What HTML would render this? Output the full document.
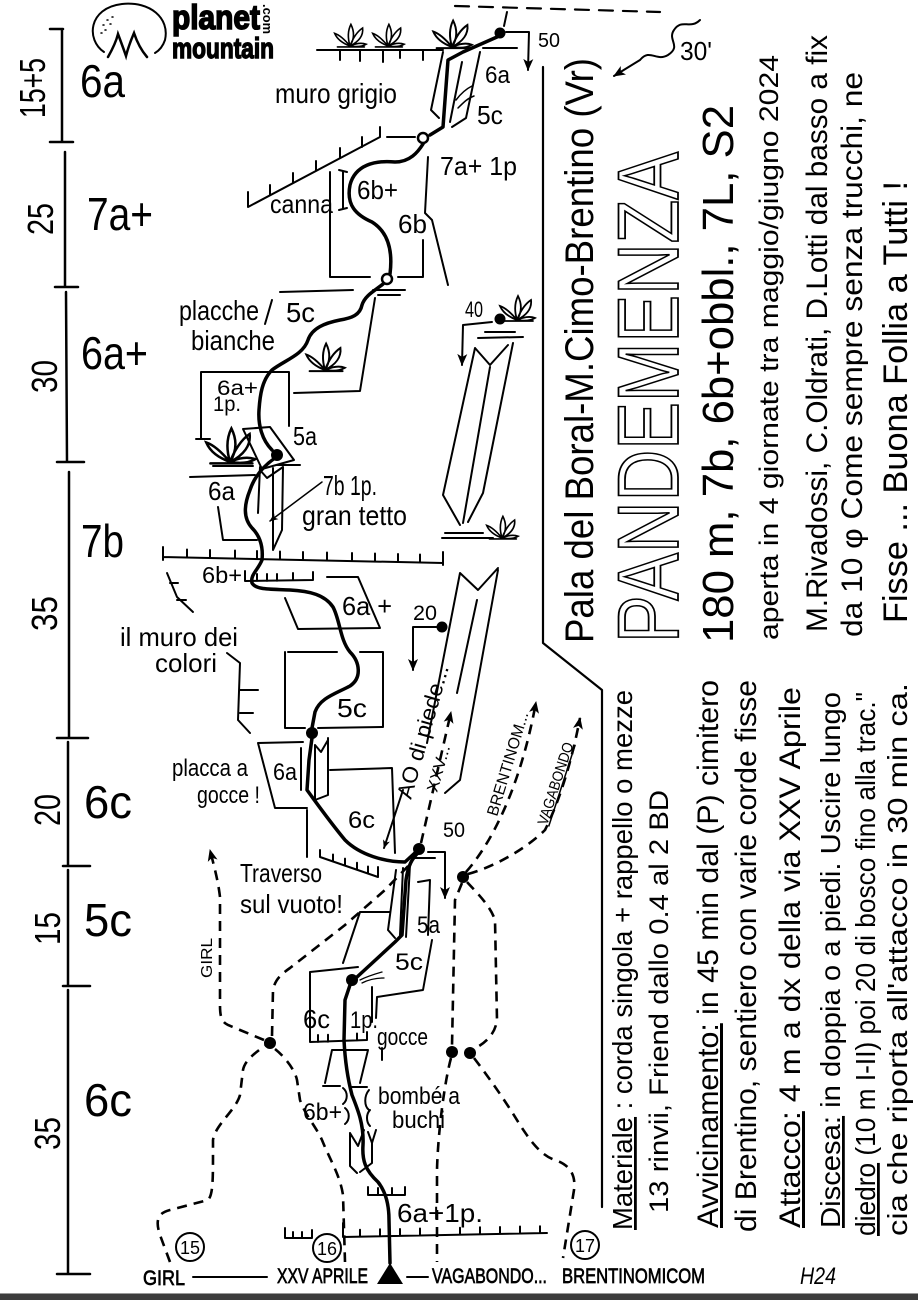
<!DOCTYPE html>
<html><head><meta charset="utf-8">
<style>
html,body{margin:0;padding:0;background:#fff;}
svg{display:block}
text{font-family:"Liberation Sans Narrow","Liberation Sans",sans-serif;fill:#000}
</style></head>
<body>
<svg width="918" height="1300" viewBox="0 0 918 1300" xmlns="http://www.w3.org/2000/svg">
<defs>
<marker id="ah" markerUnits="userSpaceOnUse" markerWidth="14" markerHeight="14" viewBox="0 0 14 14" refX="12" refY="7" orient="auto"><path d="M1,2 L13,7 L1,12 L4,7 Z" fill="#000"/></marker>
<marker id="ahs" markerUnits="userSpaceOnUse" markerWidth="10" markerHeight="10" viewBox="0 0 14 14" refX="12" refY="7" orient="auto"><path d="M1,2 L13,7 L1,12 L4,7 Z" fill="#000"/></marker>
<g id="plant" fill="none" stroke="#000" stroke-width="1.8" stroke-linecap="round">
<path d="M0,0 C-3,-10 -2,-18 1,-24 C5,-16 5,-8 0,0 M0,0 C3,-8 8,-16 14,-20 C15,-12 10,-5 0,0 M0,0 C-5,-6 -11,-12 -17,-14 C-14,-7 -8,-3 0,0 M0,0 C6,-3 13,-4 18,-2 C13,1 6,1 0,0 M-14,1 L16,1"/>
</g>
</defs>
<rect width="918" height="1300" fill="#fff"/>

<!-- LOGO -->
<g fill="none" stroke="#000" stroke-linecap="round">
<path d="M104,52 C86,40 88,8 122,4 C150,1 170,18 165,40 C163,46 160,50 155,53" stroke-width="2"/>
<path d="M108,57 C112,50 116,42 118,34 C121,42 124,50 126,56 C128,48 131,40 134,33 C137,42 141,50 147,57" stroke-width="2.5"/>
<path d="M103,25 l1,0 M107,20 l1,0 M110,24 l1,0 M105,30 l1,0 M112,17 l1,0 M101,33 l1,0" stroke-width="1.5"/>
</g>
<text x="172" y="29" font-size="34" font-weight="bold" textLength="88" lengthAdjust="spacingAndGlyphs" style="stroke:#000;stroke-width:1.6">planet</text>
<text x="172" y="58" font-size="29" font-weight="bold" textLength="102" lengthAdjust="spacingAndGlyphs" style="stroke:#000;stroke-width:1.4">mountain</text>
<text transform="translate(263,4) rotate(90)" font-size="13" font-weight="bold" textLength="30" lengthAdjust="spacingAndGlyphs">.com</text>

<!-- SCALE COLUMN -->
<g fill="none" stroke="#000" stroke-width="2.5" stroke-linecap="round">
<path d="M50,29 L63,29 M62,29 L62,142 M50,142 L73,142"/>
<path d="M65,152 L65,287 M55,287 L78,287"/>
<path d="M66,292 L67,462 M57,462 L84,462"/>
<path d="M69,472 L69,738 M57,738 L88,738"/>
<path d="M68,742 L68,866 M63,866 L90,866"/>
<path d="M68,870 L68,986 M63,986 L90,986"/>
<path d="M68,990 L68,1274 M57,1274 L90,1274"/>
</g>
<g font-size="36">
<text transform="translate(45,118) rotate(-90)" textLength="60" lengthAdjust="spacingAndGlyphs">15+5</text>
<text transform="translate(53,235) rotate(-90)" textLength="32" lengthAdjust="spacingAndGlyphs">25</text>
<text transform="translate(57,393) rotate(-90)" textLength="33" lengthAdjust="spacingAndGlyphs">30</text>
<text transform="translate(57,631) rotate(-90)" textLength="35" lengthAdjust="spacingAndGlyphs">35</text>
<text transform="translate(60,826) rotate(-90)" textLength="32" lengthAdjust="spacingAndGlyphs">20</text>
<text transform="translate(60,945) rotate(-90)" textLength="33" lengthAdjust="spacingAndGlyphs">15</text>
<text transform="translate(60,1150) rotate(-90)" textLength="33" lengthAdjust="spacingAndGlyphs">35</text>
</g>
<g font-size="46">
<text x="80" y="97" textLength="45" lengthAdjust="spacingAndGlyphs">6a</text>
<text x="87" y="230" textLength="66" lengthAdjust="spacingAndGlyphs">7a+</text>
<text x="81" y="369" textLength="67" lengthAdjust="spacingAndGlyphs">6a+</text>
<text x="81" y="557" textLength="43" lengthAdjust="spacingAndGlyphs">7b</text>
<text x="84" y="818" textLength="48" lengthAdjust="spacingAndGlyphs">6c</text>
<text x="84" y="936" textLength="48" lengthAdjust="spacingAndGlyphs">5c</text>
<text x="84" y="1116" textLength="48" lengthAdjust="spacingAndGlyphs">6c</text>
</g>

<!-- TOP AREA -->
<g fill="none" stroke="#000" stroke-width="2" stroke-linecap="round" stroke-linejoin="round">
<path d="M455,6 L660,12" stroke-dasharray="14 10" stroke-width="2.2"/>
<path d="M504,26 L507,12"/>
<path d="M317,50 L443,50 M340,50 L340,60 M360,50 L360,61 M383,50 L383,62 M400,50 L400,58 M423,50 L423,60"/>
<path d="M483,48 L517,48"/>
<path d="M443,52 L431,110 L439,118"/>
<path d="M462,62 L450,122"/>
<path d="M480,52 L466,118 L452,127"/>
<path d="M456,100 C462,92 468,88 472,86 M458,108 C464,102 468,98 474,96" stroke-width="1.5"/>
<path d="M506,32 L529,32 L528,70" marker-end="url(#ah)"/>
<path d="M248,192 L248,207 L380,137 M270,195 L270,185 M293,183 L293,173 M316,171 L316,161 M340,158 L340,148 M362,147 L362,137 M380,137 L380,127"/>
<path d="M387,137 L415,137"/>
<path d="M343,172 L343,208 M339,170 L347,172 M339,210 L347,208"/>
<path d="M330,172 L330,277 L370,277 M398,277 L423,277 L423,240"/>
<path d="M428,157 L425,213 L432,220 L448,285"/>
<path d="M373,290 L405,290 M378,295 L400,295"/>
<path d="M280,292 L353,290 M272,300 L265,324"/>
<path d="M375,298 L360,391 L294,393"/>
<path d="M201,439 L201,372 L289,372 L289,426 M196,439 L210,439"/>
<path d="M243,429 L270,427 L294,460 L262,469 Z"/>
<path d="M190,477 L255,475 M213,466 L253,466 M277,465 L300,465"/>
<path d="M260,467 L258,513 M273,468 L273,550 L282,530 L283,467 M260,470 L267,478 L283,467"/>
<path d="M218,507 L223,540 L257,540"/>
<path d="M322,482 L270,521" stroke-width="1.5" marker-end="url(#ahs)"/>
<path d="M163,557 L443,563 M163,547 L163,560 M443,552 L443,565"/>
<path d="M187,557.5 l0,-8 M210,558 l0,-8 M235,558.5 l0,-8 M257,559 l0,-8 M280,559.5 l0,-8 M303,560 l0,-8 M327,560.5 l0,-8 M352,561 l0,-8 M375,561.5 l0,-8 M398,562 l0,-8 M420,562.5 l0,-8"/>
<path d="M245,581 L313,580 M245,581 L245,571 M257,581 l0,-7 M267,581 l0,-7 M277,581 l0,-7 M293,580 l0,-7 M313,580 l0,-8"/>
<path d="M327,577 L358,577 L380,628 L298,629 L285,598"/>
<path d="M167,573 L177,597 L193,612 M170,583 L178,583 M177,600 L186,600"/>
<path d="M227,653 L240,663 L238,720 L250,733 M240,690 L258,690 M240,713 L253,713"/>
<path d="M288,652 L337,652 M360,652 L383,652 L383,727 L318,728 M285,652 L285,728 L305,728"/>
<path d="M437,627 L413,627 L413,670" marker-end="url(#ah)"/>
<path d="M492,322 L463,325 L462,365" marker-end="url(#ah)"/>
<path d="M485,332 L515,332 M478,338 L523,337"/>
<path d="M475,348 L443,495 L460,525 M475,348 L490,365 L508,345 M490,367 L463,523 M513,343 L483,493 L468,522"/>
<path d="M445,533 L483,533 M442,538 L493,538"/>
<path d="M460,573 L427,743 M460,573 L478,590 L498,568 M477,600 L457,693 M498,570 L460,780 L445,793"/>
<path d="M543,67 L543,643 L602,690 L602,1207" stroke-width="2.2"/>
<path d="M700,20 C690,30 682,18 674,30 C667,40 682,46 668,55 C656,62 650,48 640,60 L614,76" marker-end="url(#ah)"/>
<path d="M258,743 L303,742 M258,743 L275,808 L307,808"/>
<path d="M301,748 L301,790 M315,745 L315,800 L328,795 L328,738 M315,745 L321,752 L328,740"/>
<path d="M330,770 L392,768 L395,853"/>
<path d="M307,810 L307,857"/>
<path d="M320,850 L320,857 L378,877 L378,867 M333,861.5 l0,-7 M345,865.6 l0,-7 M357,869.8 l0,-7 M368,873.5 l0,-7"/>
<path d="M403,790 L384,848" marker-end="url(#ahs)"/>
<path d="M428,852 L445,852 L445,898" marker-end="url(#ah)"/>
<path d="M415,858 L435,858"/>
<path d="M396,870 L388,930 L395,938 M403,868 L400,935 M410,865 L406,937 M418,882 L430,880 L428,935"/>
<path d="M360,912 L390,912 M360,912 L343,963 M432,940 L423,990 L377,997 L376,1018"/>
<path d="M382,972 C375,974 368,976 360,980 M384,978 C376,978 368,980 362,983" stroke-width="1.3"/>
<path d="M310,972 L358,967 M310,972 L310,1042 L367,1040 M318,1042 l0,-7 M328,1041.7 l0,-7 M357,1040.5 l0,-7 M367,1040 l0,-8"/>
<path d="M372,987 L372,1022 M382,1048 L382,1060"/>
<path d="M332,1050 L368,1050 M332,1050 L325,1083 M368,1050 L360,1083 M323,1086 L340,1086 M352,1087 L367,1087"/>
<path d="M343,1088 C348,1092 348,1100 343,1104 M369,1090 C364,1096 364,1106 369,1110 M345,1108 C350,1112 350,1120 345,1124 M370,1110 C366,1114 366,1122 370,1126"/>
<path d="M350,1133 L350,1166 L357,1173 M350,1133 L358,1146 L364,1130 M368,1132 L372,1143 L376,1130 M372,1143 L372,1163 L360,1172"/>
<path d="M368,1195 L405,1195 M368,1195 l0,-8 M378,1195 l0,-7 M392,1195 l0,-7 M405,1195 l0,-8"/>
<path d="M343,1237 L547,1233 M343,1237 l0,-14 M360,1236.7 l0,-7 M380,1236.3 l0,-7 M400,1236 l0,-7 M420,1235.5 l0,-7 M460,1234.7 l0,-7 M480,1234.3 l0,-7 M500,1234 l0,-7 M520,1233.5 l0,-7 M540,1233.2 l0,-7"/>
<path d="M285,1238 L312,1238 M285,1238 l0,-10 M293,1238 l0,-6 M302,1238 l0,-6 M312,1238 l0,-8"/>
<path d="M193,1277 L267,1277 M407,1277 L428,1277"/>
<circle cx="190" cy="1247" r="14"/>
<circle cx="327" cy="1248" r="14"/>
<circle cx="585" cy="1245" r="14"/>
</g>

<use href="#plant" transform="translate(350,46) scale(0.9)"/>
<use href="#plant" transform="translate(388,46) scale(0.9)"/>
<use href="#plant" transform="translate(452,47) scale(1.1)"/>
<use href="#plant" transform="translate(517,320) scale(1)"/>
<use href="#plant" transform="translate(502,538) scale(0.9)"/>
<use href="#plant" transform="translate(325,370) scale(1.1)"/>
<use href="#plant" transform="translate(230,462) scale(1.4)"/>

<!-- ROUTE -->
<g fill="none" stroke="#000" stroke-width="3.5" stroke-linecap="round" stroke-linejoin="round">
<path d="M497,37 L463,52 L448,60 L443,127 L430,135"/>
<path d="M423,144 C418,152 410,162 395,162 C375,160 355,165 350,185 C346,205 356,215 372,222 C388,232 393,250 390,274"/>
<path d="M383,284 C376,290 365,295 362,305 C360,315 352,318 340,320 C325,323 312,328 308,340 C303,355 285,360 272,370 C262,380 260,395 259,410 C258,425 262,440 272,450"/>
<path d="M275,458 C265,465 255,475 250,490 C244,505 243,518 252,528 C262,538 263,550 262,560 C258,570 250,575 252,583 C256,590 270,589 290,590 C310,591 325,595 333,607 C340,620 340,640 350,652 C360,662 362,678 350,686 C335,694 320,698 315,712 L312,728"/>
<path d="M312,738 L309,760 L307,790 C318,805 330,822 345,840 C360,855 385,862 405,862 L417,851"/>
<path d="M419,852 C412,858 408,866 406,880 L402,935 L395,942 L357,977"/>
<path d="M350,985 L345,1000 L344,1040 C345,1060 348,1080 352,1095 C358,1110 364,1125 363,1145 C362,1160 365,1170 378,1182 C386,1192 389,1205 389,1220 L390,1263"/>
</g>
<polygon points="390,1263 377,1284 403,1284" fill="#000"/>

<g stroke="#000" stroke-width="2.5">
<circle cx="423" cy="138" r="5" fill="#fff"/>
<circle cx="387" cy="279" r="5" fill="#fff"/>
</g>
<g fill="#000">
<circle cx="500" cy="33" r="5.5"/>
<circle cx="277" cy="455" r="6"/>
<circle cx="312" cy="733" r="6"/>
<circle cx="442" cy="627" r="5.5"/>
<circle cx="500" cy="319" r="5.5"/>
<circle cx="419" cy="849" r="6"/>
<circle cx="463" cy="877" r="6"/>
<circle cx="352" cy="980" r="6"/>
<circle cx="270" cy="1043" r="6"/>
<circle cx="452" cy="1052" r="6"/>
<circle cx="470" cy="1053" r="6"/>
</g>

<!-- DASHED PATHS -->
<g fill="none" stroke="#000" stroke-width="2.6" stroke-dasharray="10 7" stroke-linecap="butt">
<path d="M170,1262 L160,1235 C155,1220 158,1213 170,1210 L208,1200 C213,1195 213,1180 213,1150 L213,1140 C215,1125 236,1110 240,1095 L243,1070 C245,1060 255,1053 266,1045"/>
<path d="M264,1040 L228,1025 C222,1022 220,1018 220,1005 L220,897 C218,880 214,866 210,850" marker-end="url(#ah)"/>
<path d="M272,1036 L273,990 C275,980 280,975 290,968 L345,925 L385,890 L412,862"/>
<path d="M275,1049 C285,1057 295,1070 297,1080 L300,1100 C305,1115 315,1125 322,1140 C330,1160 340,1175 343,1195 L345,1262"/>
<path d="M421,843 L451,712" marker-end="url(#ah)"/>
<path d="M462,883 L455,900 L452,1046"/>
<path d="M467,882 C476,892 490,905 495,920 L497,1020 C495,1035 485,1043 474,1049"/>
<path d="M451,1058 C445,1080 438,1130 437,1170 L437,1262"/>
<path d="M474,1058 C487,1075 505,1100 520,1125 C530,1140 540,1155 555,1160 C570,1165 576,1175 574,1190 L563,1258"/>
<path d="M466,872 C490,845 520,790 536,702" marker-end="url(#ah)"/>
<path d="M468,874 C500,865 530,845 545,830 C560,800 572,760 580,718" marker-end="url(#ah)"/>
</g>

<!-- TOPO LABELS -->
<g font-size="26">
<text x="275" y="103" font-size="28" textLength="122" lengthAdjust="spacingAndGlyphs">muro grigio</text>
<text x="485" y="83" font-size="24" textLength="25" lengthAdjust="spacingAndGlyphs">6a</text>
<text x="477" y="124" textLength="26" lengthAdjust="spacingAndGlyphs">5c</text>
<text x="538" y="47" font-size="20" textLength="22" lengthAdjust="spacingAndGlyphs">50</text>
<text x="440" y="175" textLength="77" lengthAdjust="spacingAndGlyphs">7a+ 1p</text>
<text x="270" y="213" textLength="63" lengthAdjust="spacingAndGlyphs">canna</text>
<text x="357" y="199" textLength="41" lengthAdjust="spacingAndGlyphs">6b+</text>
<text x="398" y="233" textLength="29" lengthAdjust="spacingAndGlyphs">6b</text>
<text x="179" y="320" font-size="28" textLength="80" lengthAdjust="spacingAndGlyphs">placche</text>
<text x="286" y="322" font-size="28" textLength="29" lengthAdjust="spacingAndGlyphs">5c</text>
<text x="191" y="350" font-size="28" textLength="84" lengthAdjust="spacingAndGlyphs">bianche</text>
<text x="217" y="395" font-size="21" textLength="41" lengthAdjust="spacingAndGlyphs">6a+</text>
<text x="213" y="411" font-size="21" textLength="28" lengthAdjust="spacingAndGlyphs">1p.</text>
<text x="293" y="445" textLength="24" lengthAdjust="spacingAndGlyphs">5a</text>
<text x="208" y="500" textLength="27" lengthAdjust="spacingAndGlyphs">6a</text>
<text x="323" y="495" font-size="28" textLength="54" lengthAdjust="spacingAndGlyphs">7b 1p.</text>
<text x="302" y="525" font-size="28" textLength="105" lengthAdjust="spacingAndGlyphs">gran tetto</text>
<text x="465" y="317" font-size="22" textLength="18" lengthAdjust="spacingAndGlyphs">40</text>
<text x="202" y="583" font-size="23" textLength="40" lengthAdjust="spacingAndGlyphs">6b+</text>
<text x="342" y="615" textLength="50" lengthAdjust="spacingAndGlyphs">6a +</text>
<text x="413" y="620" font-size="21" textLength="24" lengthAdjust="spacingAndGlyphs">20</text>
<text x="120" y="646" textLength="118" lengthAdjust="spacingAndGlyphs">il muro dei</text>
<text x="155" y="672" textLength="62" lengthAdjust="spacingAndGlyphs">colori</text>
<text x="337" y="717" textLength="30" lengthAdjust="spacingAndGlyphs">5c</text>
<text x="172" y="776" font-size="24" textLength="76" lengthAdjust="spacingAndGlyphs">placca a</text>
<text x="197" y="803" font-size="24" textLength="63" lengthAdjust="spacingAndGlyphs">gocce !</text>
<text x="273" y="780" font-size="24" textLength="24" lengthAdjust="spacingAndGlyphs">6a</text>
<text x="348" y="828" font-size="24" textLength="27" lengthAdjust="spacingAndGlyphs">6c</text>
<text x="443" y="837" font-size="21" textLength="22" lengthAdjust="spacingAndGlyphs">50</text>
<text x="240" y="882" textLength="82" lengthAdjust="spacingAndGlyphs">Traverso</text>
<text x="240" y="913" textLength="103" lengthAdjust="spacingAndGlyphs">sul vuoto!</text>
<text x="417" y="933" font-size="24" textLength="23" lengthAdjust="spacingAndGlyphs">5a</text>
<text x="395" y="970" font-size="24" textLength="28" lengthAdjust="spacingAndGlyphs">5c</text>
<text x="303" y="1028" textLength="27" lengthAdjust="spacingAndGlyphs">6c</text>
<text x="350" y="1028" font-size="24" textLength="28" lengthAdjust="spacingAndGlyphs">1p.</text>
<text x="377" y="1045" font-size="24" textLength="51" lengthAdjust="spacingAndGlyphs">gocce</text>
<text x="378" y="1104" font-size="24" textLength="82" lengthAdjust="spacingAndGlyphs">bombé a</text>
<text x="392" y="1128" font-size="24" textLength="53" lengthAdjust="spacingAndGlyphs">buchi</text>
<text x="303" y="1120" font-size="24" textLength="39" lengthAdjust="spacingAndGlyphs">6b+</text>
<text x="397" y="1222" textLength="86" lengthAdjust="spacingAndGlyphs">6a+1p.</text>
</g>
<g font-size="21" style="stroke:#000;stroke-width:0.7">
<text x="143" y="1285" textLength="42" lengthAdjust="spacingAndGlyphs">GIRL</text>
<text x="277" y="1283" textLength="91" lengthAdjust="spacingAndGlyphs">XXV APRILE</text>
<text x="432" y="1283" textLength="115" lengthAdjust="spacingAndGlyphs">VAGABONDO...</text>
<text x="562" y="1283" textLength="143" lengthAdjust="spacingAndGlyphs">BRENTINOMICOM</text>
</g>
<g font-size="18">
<text x="180" y="1254" textLength="20" lengthAdjust="spacingAndGlyphs">15</text>
<text x="317" y="1255" textLength="20" lengthAdjust="spacingAndGlyphs">16</text>
<text x="575" y="1252" textLength="20" lengthAdjust="spacingAndGlyphs">17</text>
</g>
<text transform="translate(212,978) rotate(-90)" font-size="16" textLength="40" lengthAdjust="spacingAndGlyphs">GIRL</text>
<text transform="translate(411,800) rotate(-74)" font-size="22" textLength="138" lengthAdjust="spacingAndGlyphs">AO di piede...</text>
<text transform="translate(437,793) rotate(-74)" font-size="16" textLength="48" lengthAdjust="spacingAndGlyphs">XXV...</text>
<text transform="translate(497,817) rotate(-73)" font-size="16" textLength="108" lengthAdjust="spacingAndGlyphs">BRENTINOM...</text>
<text transform="translate(547,826) rotate(-72)" font-size="15" textLength="86" lengthAdjust="spacingAndGlyphs" text-decoration="underline">VAGABONDO</text>
<text x="680" y="60" font-size="26" textLength="32" lengthAdjust="spacingAndGlyphs">30'</text>
<text x="800" y="1284" font-size="24" font-style="italic" textLength="36" lengthAdjust="spacingAndGlyphs">H24</text>

<!-- RIGHT TITLE BLOCK -->
<text transform="translate(593,643) rotate(-90)" font-size="40" textLength="585" lengthAdjust="spacingAndGlyphs">Pala del Boral-M.Cimo-Brentino (Vr)</text>
<text transform="translate(678,643) rotate(-90)" font-size="86" textLength="491" lengthAdjust="spacingAndGlyphs" style="fill:#fff;stroke:#000;stroke-width:1.8">PANDEMENZA</text>
<text transform="translate(733,643) rotate(-90)" font-size="44" textLength="538" lengthAdjust="spacingAndGlyphs">180 m, 7b, 6b+obbl., 7L, S2</text>
<text transform="translate(778,640) rotate(-90)" font-size="27" textLength="585" lengthAdjust="spacingAndGlyphs">aperta in 4 giornate tra maggio/giugno 2024</text>
<text transform="translate(827,632) rotate(-90)" font-size="30" textLength="597" lengthAdjust="spacingAndGlyphs">M.Rivadossi, C.Oldrati, D.Lotti dal basso a fix</text>
<text transform="translate(862,637) rotate(-90)" font-size="30" textLength="565" lengthAdjust="spacingAndGlyphs">da 10 φ  Come sempre senza trucchi, ne</text>
<text transform="translate(907,623) rotate(-90)" font-size="34" textLength="442" lengthAdjust="spacingAndGlyphs">Fisse ...  Buona Follia a Tutti !</text>

<!-- RIGHT INFO BLOCK -->
<text transform="translate(632,1230) rotate(-90)" font-size="28" textLength="540" lengthAdjust="spacingAndGlyphs"><tspan text-decoration="underline">Materiale</tspan> : corda singola + rappello o mezze</text>
<text transform="translate(668,1213) rotate(-90)" font-size="27" textLength="423" lengthAdjust="spacingAndGlyphs">13 rinvii, Friend dallo 0.4 al 2 BD</text>
<text transform="translate(718,1228) rotate(-90)" font-size="30" textLength="548" lengthAdjust="spacingAndGlyphs"><tspan text-decoration="underline">Avvicinamento:</tspan> in 45 min dal (P) cimitero</text>
<text transform="translate(756,1232) rotate(-90)" font-size="30" textLength="552" lengthAdjust="spacingAndGlyphs">di Brentino, sentiero con varie corde fisse</text>
<text transform="translate(800,1228) rotate(-90)" font-size="30" textLength="541" lengthAdjust="spacingAndGlyphs"><tspan text-decoration="underline">Attacco:</tspan> 4 m a dx della via XXV Aprile</text>
<text transform="translate(840,1228) rotate(-90)" font-size="28" textLength="536" lengthAdjust="spacingAndGlyphs"><tspan text-decoration="underline">Discesa:</tspan> in doppia o a piedi. Uscire lungo</text>
<text transform="translate(875,1236) rotate(-90)" font-size="28" textLength="544" lengthAdjust="spacingAndGlyphs"><tspan text-decoration="underline">diedro</tspan> (10 m I-II) poi 20 di bosco fino alla trac."</text>
<text transform="translate(907,1236) rotate(-90)" font-size="28" textLength="553" lengthAdjust="spacingAndGlyphs">cia che riporta all'attacco in 30 min ca.</text>

<rect x="0" y="1293" width="918" height="1" fill="#999"/>
<rect x="0" y="1294" width="918" height="6" fill="#3c3c3c"/>
</svg>
</body></html>
